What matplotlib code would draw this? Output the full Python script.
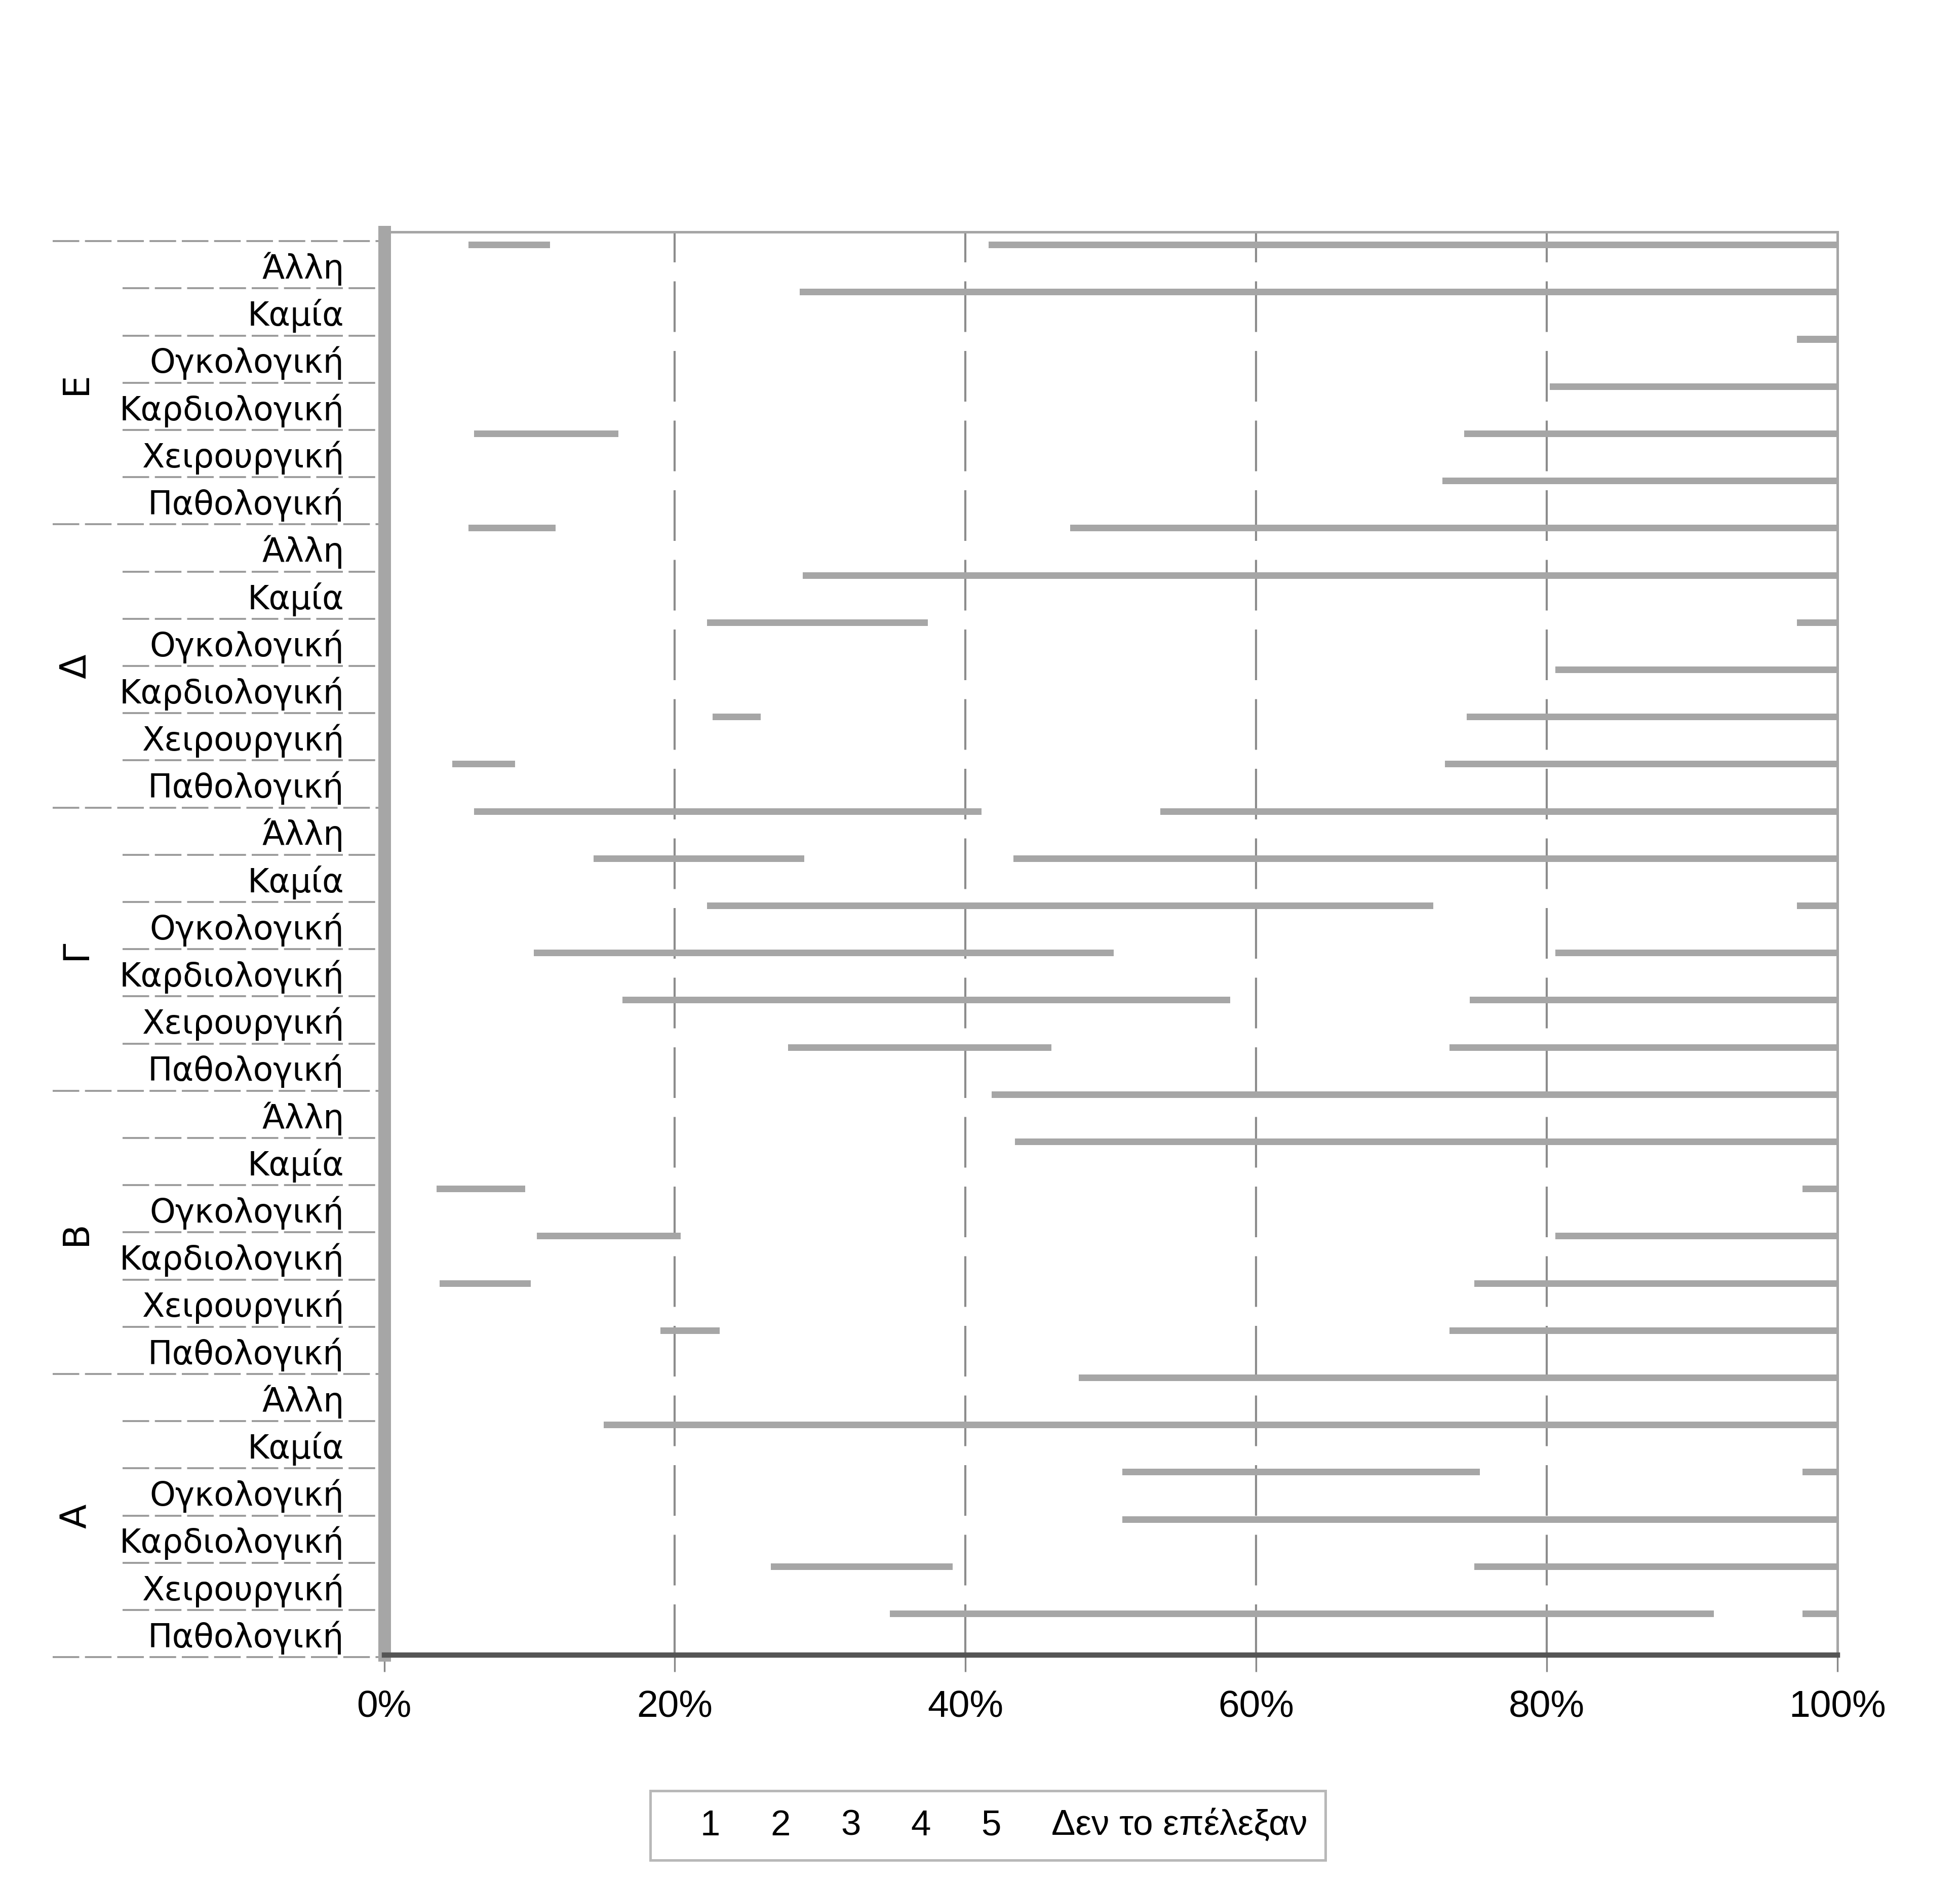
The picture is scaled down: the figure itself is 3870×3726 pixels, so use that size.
import numpy as np
import matplotlib.pyplot as plt
from matplotlib.patches import Patch
import matplotlib.transforms as mtransforms

# rows from bottom (A) to top (E), six categories per group
groups = ['Α', 'Β', 'Γ', 'Δ', 'Ε']
categories = ['Παθολογική', 'Χειρουργική', 'Καρδιολογική', 'Ογκολογική', 'Καμία', 'Άλλη']
series = ['1', '2', '3', '4', '5', 'Δεν το επέλεξαν']

# percentages per row, bottom to top (Α Παθολογική ... Ε Άλλη)
s1 = [18.0, 26.6, 25.0, 30.0, 8.0, 22.0,
      19.0, 3.8, 10.5, 3.6, 20.0, 20.0,
      27.8, 16.4, 10.3, 12.0, 14.4, 6.2,
      4.7, 22.6, 40.0, 22.2, 14.0, 5.8,
      36.0, 6.2, 40.0, 40.0, 14.0, 5.8]
s2 = [0.0, 12.5, 0.0, 0.0, 0.0, 0.0,
      4.1, 6.3, 9.9, 6.1, 0.0, 0.0,
      18.1, 41.8, 39.9, 0.0, 14.5, 34.9,
      4.3, 3.3, 0.0, 15.2, 0.0, 6.0,
      0.0, 9.9, 0.0, 0.0, 0.0, 5.6]
s3 = [16.8, 35.9, 25.8, 20.8, 7.1, 25.8,
      50.2, 64.9, 60.2, 45.0, 23.4, 21.8,
      27.4, 16.5, 30.4, 10.2, 14.4, 12.3,
      64.0, 48.6, 40.6, 30.0, 14.8, 35.4,
      36.8, 58.2, 40.2, 30.0, 14.6, 30.2]
s4 = [56.7, 15.0, 39.2, 24.6, 74.9, 42.2,
      16.7, 15.0, 9.4, 0.0, 46.6, 48.2,
      16.7, 15.3, 9.4, 50.0, 46.7, 36.6,
      17.0, 15.5, 9.4, 0.0, 61.2, 42.8,
      17.2, 15.7, 9.8, 0.0, 61.4, 48.4]
s5 = [6.1, 0.0, 0.0, 22.2, 0.0, 0.0,
      0.0, 0.0, 0.0, 42.9, 0.0, 0.0,
      0.0, 0.0, 0.0, 25.0, 0.0, 0.0,
      0.0, 0.0, 0.0, 29.8, 0.0, 0.0,
      0.0, 0.0, 0.0, 27.2, 0.0, 0.0]
s6 = [2.4, 10.0, 10.0, 2.4, 10.0, 10.0,
      10.0, 10.0, 10.0, 2.4, 10.0, 10.0,
      10.0, 10.0, 10.0, 2.8, 10.0, 10.0,
      10.0, 10.0, 10.0, 2.8, 10.0, 10.0,
      10.0, 10.0, 10.0, 2.8, 10.0, 10.0]

values = np.array([s1, s2, s3, s4, s5, s6])
# scanned copy: only some segment tops survive as grey bands
colors = ['none', '#a6a6a6', 'none', '#a6a6a6', 'none', '#a6a6a6']

row_labels = categories * len(groups)
y = np.arange(len(row_labels))

plt.rcParams['font.family'] = ['DejaVu Sans']
narrow = ['Liberation Sans Narrow', 'Liberation Sans', 'DejaVu Sans']

fig = plt.figure(figsize=(12.9, 12.423), dpi=300)
ax = fig.add_axes([0.196, 0.123, 0.7415, 0.754])

left = np.zeros(len(y))
for vals, col, name in zip(values, colors, series):
    ax.barh(y + 0.42, vals, left=left, height=0.14, color=col, edgecolor='none', label=name, zorder=3)
    left += vals

ax.set_xlim(0, 100)
ax.set_ylim(-0.45, 29.7)
ax.set_xticks([0, 20, 40, 60, 80, 100])
ax.set_xticklabels(['0%', '20%', '40%', '60%', '80%', '100%'], family=narrow, fontsize=18)
ax.set_yticks(y)
ax.set_yticklabels(row_labels, fontsize=15.5)
ax.tick_params(axis='y', length=0, pad=19)
ax.tick_params(axis='x', length=8, width=0.8, color='#888888', pad=8)

for gx in [20, 40, 60, 80]:
    ax.axvline(gx, color='#8c8c8c', lw=1.0, dashes=(24, 9), zorder=1)

for side in ['top', 'right']:
    ax.spines[side].set_color('#a6a6a6')
    ax.spines[side].set_linewidth(1.2)
ax.spines['left'].set_color('#a6a6a6')
ax.spines['left'].set_linewidth(6)
ax.spines['bottom'].set_color('#555555')
ax.spines['bottom'].set_linewidth(2.5)

# category / group separators on the left
trans = mtransforms.blended_transform_factory(ax.transAxes, ax.transData)
for i in range(len(y) + 1):
    yb = i - 0.5
    x0 = -0.228 if i % 6 == 0 else -0.18
    ax.plot([x0, -0.004], [yb, yb], transform=trans, color='#9a9a9a', lw=0.9,
            dashes=(14, 3), clip_on=False)

for gi, g in enumerate(groups):
    ax.text(-0.212, gi * 6 + 2.5, g, transform=trans, rotation=90, fontsize=17,
            ha='center', va='center')

handles = [Patch(facecolor='none', edgecolor='none') for _ in series]
leg = fig.legend(handles, series, loc='center', bbox_to_anchor=(0.504, 0.0325), ncol=6,
                 frameon=True, fancybox=False, edgecolor='#a6a6a6', handlelength=0.6,
                 handletextpad=0.3, columnspacing=0.5, borderpad=0.5,
                 prop={'family': narrow, 'size': 17})
leg.get_frame().set_linewidth(1.2)

fig.savefig('out.png', dpi=300, facecolor='white')
